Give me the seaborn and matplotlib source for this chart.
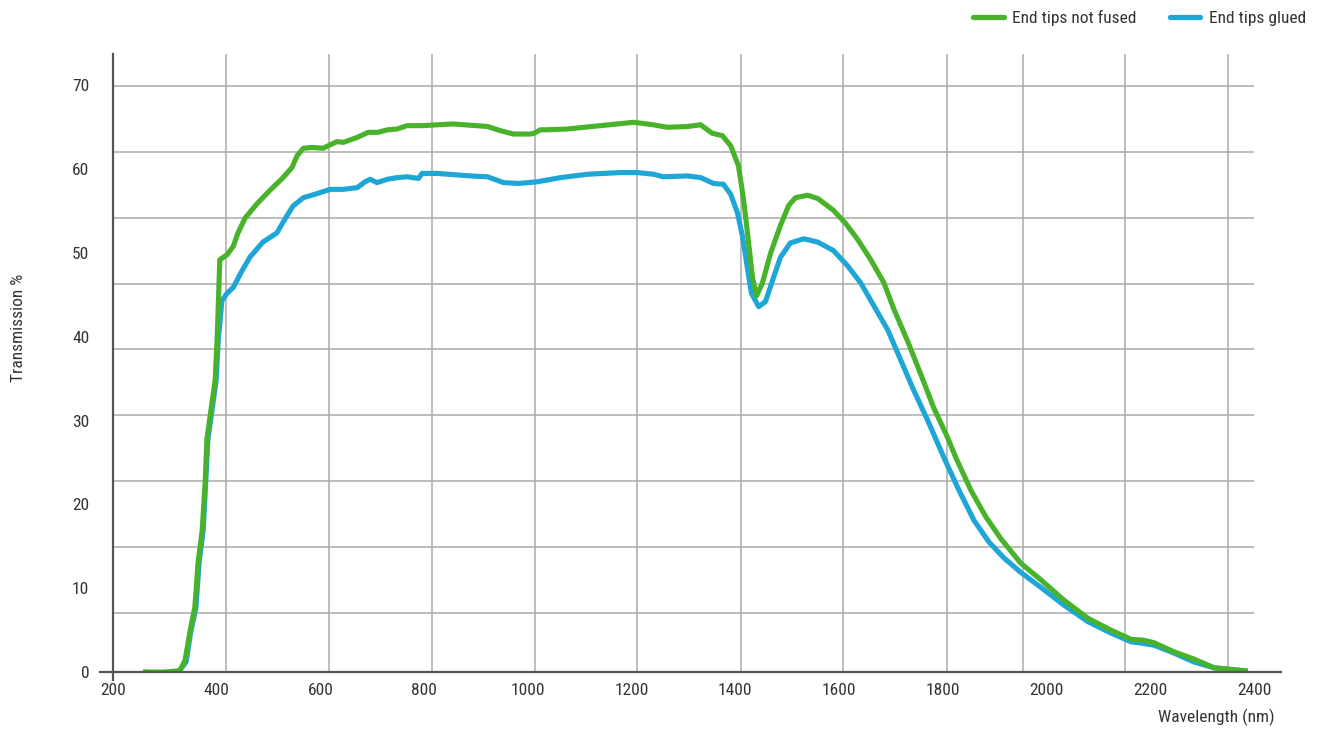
import numpy as np
import pandas as pd
import matplotlib
matplotlib.use("Agg")
import matplotlib.pyplot as plt
from matplotlib.lines import Line2D
from matplotlib import font_manager as fm
import seaborn as sns

# ---- data ----
wl_fused = [258, 300, 329, 339, 349, 358, 364, 372, 378, 381, 387, 397, 401, 406, 420, 432,
            441, 455, 478, 503, 528, 545, 555, 567, 584, 605, 632, 644, 671, 692, 711, 729,
            748, 767, 798, 825, 856, 922, 947, 972, 1005, 1012, 1024, 1034, 1076, 1140, 1204,
            1242, 1269, 1308, 1333, 1355, 1375, 1391, 1406, 1416, 1425, 1433, 1441, 1452,
            1468, 1487, 1503, 1516, 1539, 1559, 1589, 1613, 1636, 1661, 1686, 1705, 1732,
            1757, 1782, 1809, 1825, 1854, 1883, 1912, 1950, 1989, 2033, 2080, 2124, 2163,
            2186, 2207, 2246, 2284, 2323, 2350, 2388]
tr_fused = [0.0, 0.0, 0.15, 1.4, 5.0, 7.8, 13.0, 16.9, 22.9, 27.7, 30.4, 34.8, 40.0, 49.2, 49.8, 50.8,
            52.4, 54.2, 55.9, 57.5, 59.0, 60.2, 61.6, 62.5, 62.6, 62.5, 63.3, 63.2, 63.8, 64.4, 64.4, 64.7,
            64.8, 65.2, 65.2, 65.3, 65.4, 65.1, 64.6, 64.2, 64.2, 64.3, 64.7, 64.7, 64.8, 65.2, 65.6,
            65.3, 65.0, 65.1, 65.3, 64.3, 64.0, 62.8, 60.4, 56.3, 51.5, 47.1, 44.9, 46.4,
            50.0, 53.3, 55.7, 56.6, 56.9, 56.5, 55.1, 53.5, 51.6, 49.2, 46.5, 43.4, 39.5,
            35.6, 31.6, 28.0, 25.6, 21.7, 18.5, 15.9, 13.0, 11.0, 8.6, 6.4, 5.0, 3.9,
            3.8, 3.5, 2.4, 1.55, 0.5, 0.35, 0.1]

wl_glued = [258, 280, 305, 325, 341, 350, 360, 366, 374, 379, 383, 389, 399, 403, 410, 420,
            432, 449, 464, 489, 516, 532, 547, 567, 594, 619, 644, 671, 686, 696, 709, 729,
            748, 767, 789, 796, 825, 889, 922, 953, 982, 1018, 1063, 1115, 1178, 1211, 1242,
            1261, 1308, 1333, 1358, 1377, 1391, 1404, 1414, 1423, 1431, 1445, 1458, 1472,
            1487, 1506, 1532, 1559, 1589, 1616, 1642, 1667, 1694, 1719, 1744, 1771, 1802,
            1831, 1860, 1889, 1918, 1950, 1989, 2033, 2080, 2124, 2163, 2182, 2207, 2246,
            2284, 2323, 2388]
tr_glued = [0.0, -0.15, -0.25, -0.1, 1.2, 4.8, 7.7, 13.0, 16.9, 22.9, 27.7, 30.4, 34.8, 39.6, 44.3, 45.2,
            45.9, 47.9, 49.5, 51.3, 52.4, 54.1, 55.6, 56.6, 57.1, 57.6, 57.6, 57.8, 58.5, 58.8, 58.4, 58.8,
            59.0, 59.1, 58.9, 59.5, 59.5, 59.2, 59.1, 58.4, 58.3, 58.5, 59.0, 59.4, 59.6, 59.6, 59.4,
            59.1, 59.2, 59.0, 58.3, 58.2, 57.0, 54.8, 51.9, 48.3, 45.2, 43.6, 44.2, 46.8,
            49.5, 51.2, 51.7, 51.3, 50.3, 48.5, 46.4, 43.7, 40.8, 37.2, 33.6, 30.0, 25.6,
            21.7, 18.1, 15.5, 13.6, 11.9, 10.1, 8.0, 6.0, 4.65, 3.6, 3.45, 3.2, 2.25,
            1.2, 0.5, 0.1]

label_fused = "End tips not fused"
label_glued = "End tips glued"
x_ticks = [200, 400, 600, 800, 1000, 1200, 1400, 1600, 1800, 2000, 2200, 2400]
y_ticks = [0, 10, 20, 30, 40, 50, 60, 70]
x_label = "Wavelength (nm)"
y_label = "Transmission %"

# grid positions (as drawn in the reference, not aligned with the labels)
grid_x = [418, 617, 815, 1014, 1211, 1411, 1608, 1808, 1954, 2151, 2350]
grid_y = [7.1, 14.95, 22.8, 30.65, 38.5, 46.35, 54.2, 62.05, 69.9]

GREEN = "#48B22B"
BLUE = "#1EA6D6"
GRID = "#ABABAB"
AXIS = "#555555"
TEXT = "#333333"

sns.set_theme(style="white")

# look for a condensed / narrow face among the installed fonts
cands = []
for f in fm.fontManager.ttflist:
    n = f.name.lower()
    st = str(f.stretch).lower()
    if ("condensed" in n or "narrow" in n or st in ("condensed", "semi-condensed", "extra-condensed")
            or (isinstance(f.stretch, int) and f.stretch < 500)) and f.style == "normal":
        cands.append(f)
narrow_prop = None
pref = ["roboto", "open sans", "noto sans", "liberation", "dejavu sans", "lato", "inter"]
cands.sort(key=lambda f: (next((i for i, p in enumerate(pref) if p in f.name.lower()), 99),
                          abs((f.weight if isinstance(f.weight, int) else 400) - 400)))
if cands:
    narrow_prop = fm.FontProperties(fname=cands[0].fname)
    fam = cands[0].name
    plt.rcParams["font.family"] = [fam, "DejaVu Sans"]
else:
    plt.rcParams["font.family"] = ["DejaVu Sans"]
FS = 12.5 if cands else 11

df = pd.concat([
    pd.DataFrame({"wl": wl_glued, "tr": tr_glued, "series": label_glued}),
    pd.DataFrame({"wl": wl_fused, "tr": tr_fused, "series": label_fused}),
], ignore_index=True)

fig = plt.figure(figsize=(13.2, 7.29), dpi=100)
ax = fig.add_axes([100 / 1320, 57 / 729, 1181 / 1320, 618 / 729])

XMIN, XMAX, YMIN, YMAX = 175, 2452, 0, 73.75

ax.hlines(grid_y, 200, 2400, colors=GRID, lw=1.1, zorder=1)
ax.vlines(grid_x, 0, YMAX, colors=GRID, lw=1.1, zorder=1)

sns.lineplot(data=df, x="wl", y="tr", hue="series",
             hue_order=[label_glued, label_fused],
             palette={label_glued: BLUE, label_fused: GREEN},
             estimator=None, sort=False, lw=3.7, legend=False, ax=ax, zorder=3,
             solid_joinstyle="round", solid_capstyle="butt")

ax.set_xlim(XMIN, XMAX)
ax.set_ylim(YMIN, YMAX)
ax.set_xticks(x_ticks)
ax.set_yticks(y_ticks)
ax.set_xticklabels([str(v) for v in x_ticks])
ax.set_yticklabels([str(v) for v in y_ticks])

for s in ["top", "right"]:
    ax.spines[s].set_visible(False)
ax.spines["left"].set_position(("data", 200))
ax.spines["left"].set_bounds(-0.95, YMAX)
for s in ["left", "bottom"]:
    ax.spines[s].set_color(AXIS)
    ax.spines[s].set_linewidth(1.6)
    ax.spines[s].set_zorder(4)
ax.spines["left"].set_clip_on(False)

ax.tick_params(axis="both", length=0, labelsize=FS, labelcolor=TEXT)
ax.tick_params(axis="y", pad=17)
ax.tick_params(axis="x", pad=8)

ax.set_xlabel(x_label, fontsize=FS, color=TEXT, loc="right")
ax.xaxis.set_label_coords(0.995, -0.073)
ax.xaxis.label.set_va("center")
ax.xaxis.label.set_ha("right")
ax.set_ylabel(y_label, fontsize=FS, color=TEXT)
ax.yaxis.set_label_coords(-0.0686, 0.557)
ax.yaxis.label.set_va("center")

handles = [Line2D([], [], color=GREEN, lw=3.8), Line2D([], [], color=BLUE, lw=3.8)]
fig.legend(handles, [label_fused, label_glued], loc="center right",
           bbox_to_anchor=(1306 / 1320, 1 - 18 / 729), ncol=2, frameon=False,
           fontsize=FS, handlelength=1.75, handletextpad=0.5, columnspacing=1.9,
           borderpad=0, borderaxespad=0, labelcolor=TEXT)

fig.savefig("out.png", dpi=100)
